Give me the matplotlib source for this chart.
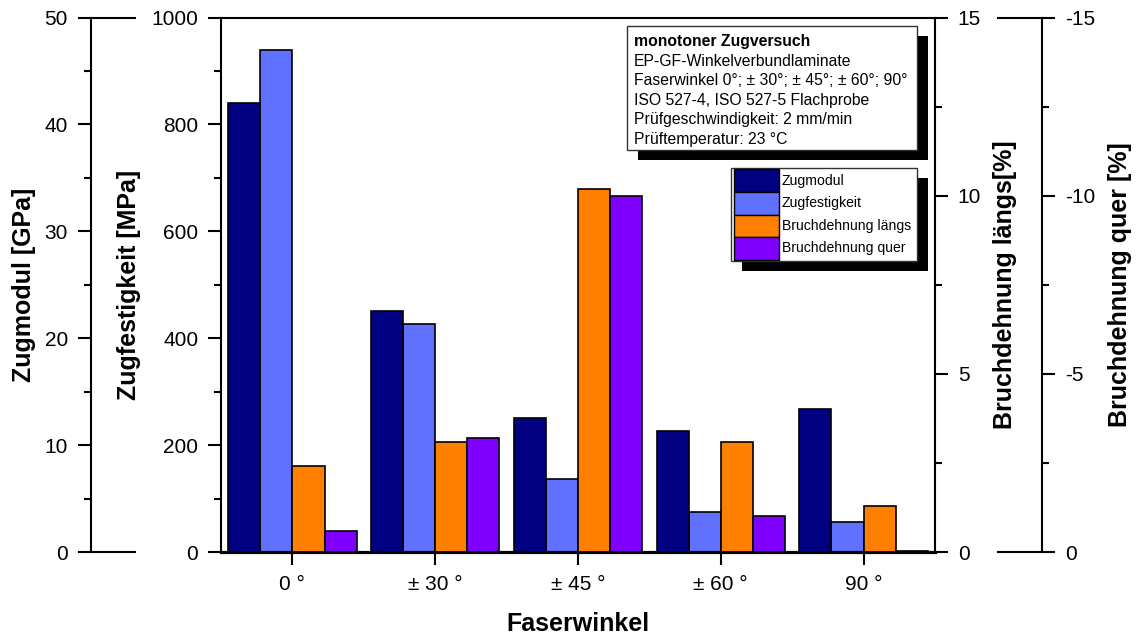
import matplotlib
matplotlib.use('Agg')
import matplotlib.pyplot as plt
from matplotlib.patches import Rectangle
from matplotlib.lines import Line2D
from matplotlib.ticker import MultipleLocator
import numpy as np

plt.rcParams['font.family'] = ['Liberation Sans', 'DejaVu Sans']
plt.rcParams['axes.unicode_minus'] = False

# ---------------- data ----------------
categories = ['0 °', '± 30 °', '± 45 °', '± 60 °', '90 °']
zugmodul = [42.0, 22.5, 12.5, 11.35, 13.4]          # GPa
zugfestigkeit = [940, 426, 137, 74, 56]              # MPa
bruch_laengs = [2.4, 3.1, 10.2, 3.1, 1.3]            # %
bruch_quer = [-0.6, -3.2, -10.0, -1.0, -0.03]        # %
series_labels = ['Zugmodul', 'Zugfestigkeit', 'Bruchdehnung längs', 'Bruchdehnung quer']
colors = ['#000080', '#6070ff', '#ff8000', '#8000ff']
info_title = 'monotoner Zugversuch'
info_lines = ['EP-GF-Winkelverbundlaminate',
              'Faserwinkel 0°; ± 30°; ± 45°; ± 60°; 90°',
              'ISO 527-4, ISO 527-5 Flachprobe',
              'Prüfgeschwindigkeit: 2 mm/min',
              'Prüftemperatur: 23 °C']

# ---------------- layout ----------------
W, H = 1136, 639
fig = plt.figure(figsize=(W / 100, H / 100), dpi=100)
L, R, T, B = 221, 935, 17.5, 552
ax = fig.add_axes([L / W, 1 - B / H, (R - L) / W, (B - T) / H])

def fpx(x, y):
    return x / W, 1 - y / H

x = np.arange(len(categories))
bw = 0.225
offs = np.array([-1.5, -0.5, 0.5, 1.5]) * bw

ax_mod = ax.twinx()
ax_l = ax.twinx()
ax_q = ax.twinx()

ekw = dict(edgecolor='black', linewidth=1.2)
ax_mod.bar(x + offs[0], zugmodul, bw, color=colors[0], **ekw)
ax.bar(x + offs[1], zugfestigkeit, bw, color=colors[1], **ekw)
ax_l.bar(x + offs[2], bruch_laengs, bw, color=colors[2], **ekw)
ax_q.bar(x + offs[3], bruch_quer, bw, color=colors[3], **ekw)

ax.set_xlim(-0.5, 4.5)
ax.set_ylim(0, 1000)
ax_mod.set_ylim(0, 50)
ax_l.set_ylim(0, 15)
ax_q.set_ylim(0, -15)

ax.yaxis.set_major_locator(MultipleLocator(200))
ax.yaxis.set_minor_locator(MultipleLocator(100))
ax_mod.yaxis.set_major_locator(MultipleLocator(10))
ax_mod.yaxis.set_minor_locator(MultipleLocator(5))
ax_l.yaxis.set_major_locator(MultipleLocator(5))
ax_l.yaxis.set_minor_locator(MultipleLocator(2.5))
ax_q.yaxis.set_major_locator(MultipleLocator(5))
ax_q.yaxis.set_minor_locator(MultipleLocator(2.5))

ax.set_xticks(x)
ax.set_xticklabels(categories)

slw = 1.5
for a in (ax, ax_mod, ax_l, ax_q):
    for s in a.spines.values():
        s.set_visible(False)
        s.set_linewidth(slw)
    a.tick_params(which='major', direction='out', length=9.4, width=slw,
                  labelsize=15, pad=7)
    a.tick_params(which='minor', direction='out', length=5, width=slw)

ax.spines['left'].set_visible(True)
ax.spines['top'].set_visible(True)
ax.spines['bottom'].set_visible(True)
ax.spines['bottom'].set_linewidth(2.3)
ax.tick_params(axis='x', which='both', top=False)

ax_mod.yaxis.tick_left()
ax_mod.yaxis.set_label_position('left')
ax_mod.spines['left'].set_visible(True)
ax_mod.spines['left'].set_position(('outward', (L - 90.7) * 0.72))

ax_l.spines['right'].set_visible(True)

ax_q.spines['right'].set_visible(True)
ax_q.spines['right'].set_position(('outward', (1042 - R) * 0.72))

# extension lines of the outer axes (Origin style)
for yy in (T, B):
    fig.add_artist(Line2D([90.7 / W, 135 / W], [1 - yy / H, 1 - yy / H],
                          transform=fig.transFigure, color='black', lw=slw))
    fig.add_artist(Line2D([998 / W, 1042 / W], [1 - yy / H, 1 - yy / H],
                          transform=fig.transFigure, color='black', lw=slw))

lab = dict(fontsize=18, fontweight='bold')
ax_mod.set_ylabel('Zugmodul [GPa]', **lab)
ax_mod.yaxis.set_label_coords((36 - L) / (R - L), 0.5)
ax.set_ylabel('Zugfestigkeit [MPa]', **lab)
ax.yaxis.set_label_coords((141 - L) / (R - L), 0.5)
ax_l.set_ylabel('Bruchdehnung längs[%]', **lab)
ax_l.yaxis.set_label_coords((993 - L) / (R - L), 0.5)
ax_q.set_ylabel('Bruchdehnung quer [%]', **lab)
ax_q.yaxis.set_label_coords((1108 - L) / (R - L), 0.5)
ax.set_xlabel('Faserwinkel', **lab)
ax.xaxis.set_label_coords(0.5, (B - 612) / (B - T))

# ---------------- info box ----------------
def rect_px(x0, y0, x1, y1, **kw):
    fx0, fy1 = fpx(x0, y1)
    fx1, fy0 = fpx(x1, y0)
    fig.add_artist(Rectangle((fx0, fy1), fx1 - fx0, fy0 - fy1,
                             transform=fig.transFigure, **kw))

bx0, by0, bx1, by1 = 627, 26, 917, 150
sh = 11
rect_px(bx0 + sh, by0 + 10, bx1 + sh, by1 + 10, facecolor='black', edgecolor='black', lw=0)
rect_px(bx0, by0, bx1, by1, facecolor='white', edgecolor='#333333', lw=1.0)
tx, ty0, dy = 634, 46, 19.6
fig.text(*fpx(tx, ty0), info_title, fontsize=11.3, fontweight='bold', va='baseline', ha='left')
for i, line in enumerate(info_lines):
    fig.text(*fpx(tx, ty0 + (i + 1) * dy), line, fontsize=11.3, va='baseline', ha='left')

# ---------------- legend ----------------
lx0, ly0, lx1, ly1 = 731, 168, 917, 261
rect_px(lx0 + sh, ly0 + 10, lx1 + sh, ly1 + 10, facecolor='black', edgecolor='black', lw=0)
rect_px(lx0, ly0, lx1, ly1, facecolor='white', edgecolor='#333333', lw=1.0)
rh = 22.5
for i, (lbl, c) in enumerate(zip(series_labels, colors)):
    yt = ly0 + 1.5 + i * rh
    rect_px(734, yt, 779, yt + rh, facecolor=c, edgecolor='black', lw=1.0)
    fig.text(*fpx(782, yt + rh / 2), lbl, fontsize=10.1, va='center', ha='left')

fig.savefig('out.png', dpi=100)
